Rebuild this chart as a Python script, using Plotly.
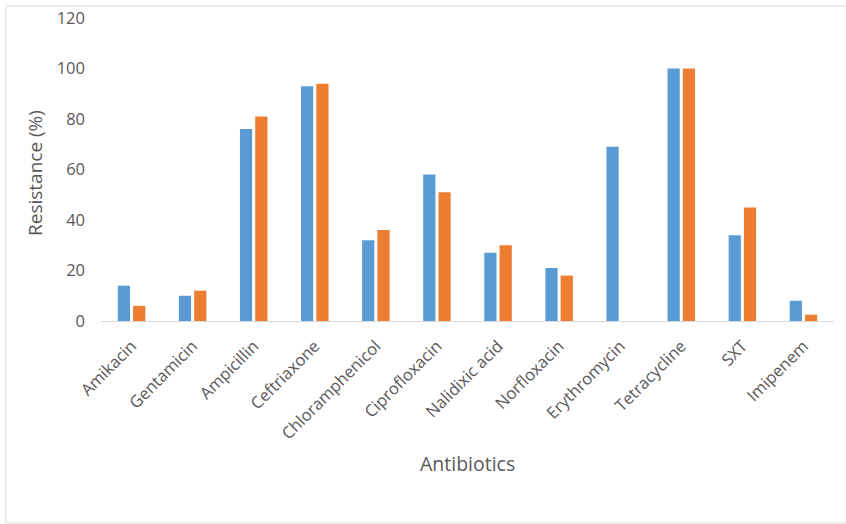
import plotly.graph_objects as go

# Antibiotic resistance (%) for two isolate groups
antibiotics = ["Amikacin", "Gentamicin", "Ampicillin", "Ceftriaxone", "Chloramphenicol",
               "Ciprofloxacin", "Nalidixic acid", "Norfloxacin", "Erythromycin",
               "Tetracycline", "SXT", "Imipenem"]
series_1 = [14, 10, 76, 93, 32, 58, 27, 21, 69, 100, 34, 8]
series_2 = [6, 12, 81, 94, 36, 51, 30, 18, 0, 100, 45, 2.5]
y_ticks = [0, 20, 40, 60, 80, 100, 120]

BLUE = "#5B9BD5"
ORANGE = "#ED7D31"
TEXT = "#595959"
FONT = "'Open Sans', Lato, sans-serif"

fig = go.Figure()
fig.add_trace(go.Bar(x=antibiotics, y=series_1, name="Series 1", marker_color=BLUE,
                     marker_line_width=0))
fig.add_trace(go.Bar(x=antibiotics, y=series_2, name="Series 2", marker_color=ORANGE,
                     marker_line_width=0))

L, R, T, B = 101, 12, 18, 203
W, H = 846, 524
pw, ph = W - L - R, H - T - B


def px_x(px):
    return (px - L) / pw


def px_y(py):
    return (H - B - py) / ph


fig.update_layout(
    width=W, height=H,
    margin=dict(l=L, r=R, t=T, b=B),
    paper_bgcolor="white", plot_bgcolor="white",
    barmode="group", bargap=0.5, bargroupgap=0.2,
    showlegend=False,
    font=dict(family=FONT, color=TEXT, size=14),
    xaxis=dict(
        tickangle=-45, tickfont=dict(size=16.5, color=TEXT, family=FONT),
        showline=True, linecolor="#d9d9d9", linewidth=1,
        showgrid=False, ticks="", automargin=False, ticklabelstandoff=8,
    ),
    yaxis=dict(
        range=[0, 120], tickvals=y_ticks, tickfont=dict(size=16.5, color=TEXT, family=FONT),
        showline=False, showgrid=False, zeroline=False, ticks="",
        ticklabelstandoff=15, automargin=False,
    ),
    annotations=[
        dict(text="Antibiotics", xref="paper", yref="paper", x=0.5, y=px_y(463),
             showarrow=False, font=dict(size=19.5, color=TEXT, family=FONT),
             xanchor="center", yanchor="middle"),
        dict(text="Resistance (%)", xref="paper", yref="paper", x=px_x(35), y=px_y(173),
             textangle=-90, showarrow=False, font=dict(size=19, color=TEXT, family=FONT),
             xanchor="center", yanchor="middle"),
    ],
    shapes=[
        dict(type="rect", xref="paper", yref="paper",
             x0=px_x(6), x1=px_x(852), y0=px_y(523), y1=px_y(6),
             line=dict(color="#d9d9d9", width=1), fillcolor="rgba(0,0,0,0)", layer="below"),
    ],
)

fig.write_html("out.html")
